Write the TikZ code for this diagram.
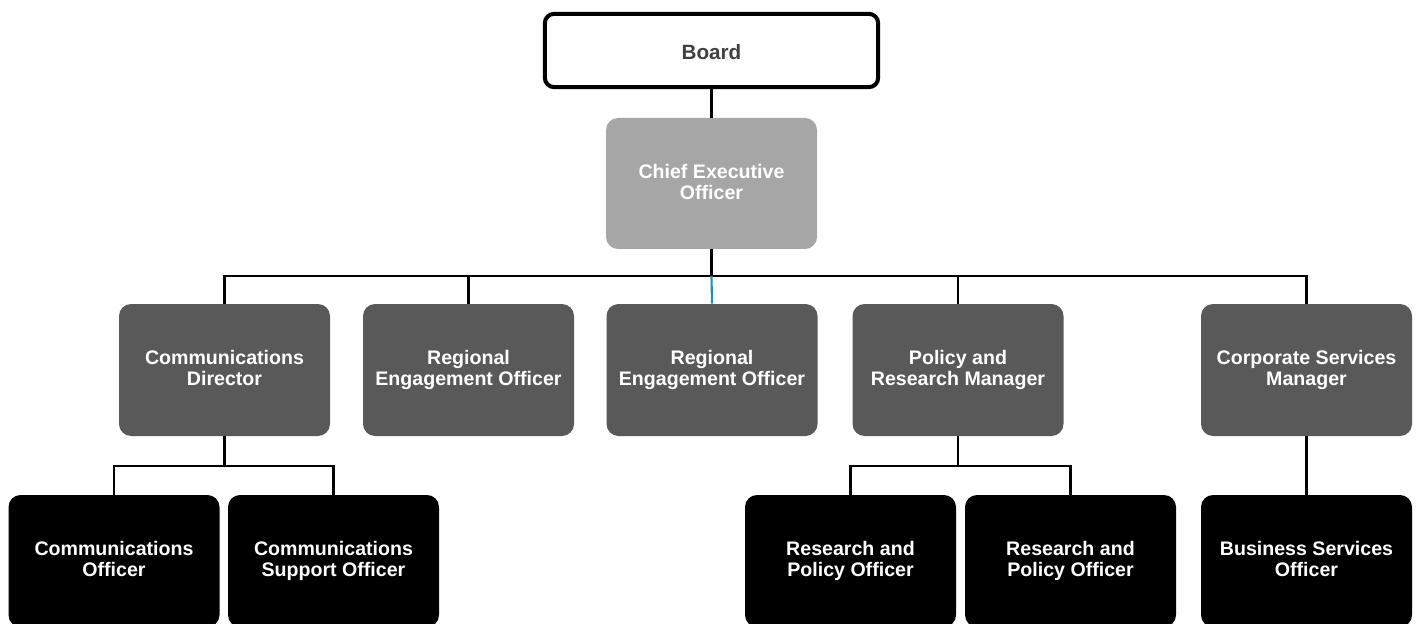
\documentclass[tikz,border=0pt]{standalone}
\usepackage{fontspec}
\setmainfont{Liberation Sans}
\definecolor{ceogray}{HTML}{A6A6A6}
\definecolor{midgray}{HTML}{595959}
\definecolor{boardtxt}{HTML}{404040}
\definecolor{linkblue}{HTML}{1F8FB8}
\newcommand\boxstrut{\rule[-3pt]{0pt}{19.5pt}}
\newcommand\boardstrut{\rule[-3pt]{0pt}{16.5pt}}
\begin{document}
\begin{tikzpicture}[x=0.75pt,y=-0.75pt,
  box/.style={rounded corners=9pt, minimum width=158.25pt, minimum height=99pt,
    align=center, text=white, inner sep=0pt,
    font=\fontsize{14.7pt}{15.75pt}\selectfont\bfseries,
    execute at begin node=\boxstrut, execute at end node=\boxstrut},
  l2box/.style={box, fill=midgray},
  l3box/.style={box, fill=black},
  conn/.style={draw=black, line width=1.6pt}]
\useasboundingbox (0,0) rectangle (1418,624);
\clip (0,0) rectangle (1418,624);
\node[box, draw=black, line width=3pt, fill=white, text=boardtxt, minimum width=250pt, minimum height=55pt, rounded corners=7pt, font=\fontsize{15.5pt}{16pt}\selectfont\bfseries, execute at begin node=\boardstrut, execute at end node=\boardstrut] (board) at (711.5,50.5) {Board};
\node[box, fill=ceogray, minimum height=98.25pt] (ceo) at (711.5,183.5) {Chief Executive\\Officer};
\node[l2box] (cd) at (224.5,370) {Communications\\Director};
\node[l2box] (reo1) at (468.5,370) {Regional\\Engagement Officer};
\node[l2box] (reo2) at (712,370) {Regional\\Engagement Officer};
\node[l2box] (prm) at (958,370) {Policy and\\Research Manager};
\node[l2box] (csm) at (1306.5,370) {Corporate Services\\Manager};
\node[l3box] (co) at (114,561) {Communications\\Officer};
\node[l3box] (cso) at (333.5,561) {Communications\\Support Officer};
\node[l3box] (rpo1) at (850.5,561) {Research and\\Policy Officer};
\node[l3box] (rpo2) at (1070.5,561) {Research and\\Policy Officer};
\node[l3box] (bso) at (1306.5,561) {Business Services\\Officer};
\coordinate (bus) at (711.5,276);
\coordinate (cdbus) at (224.5,466);
\coordinate (prbus) at (958,466);
\draw[conn] (board.south) -- (ceo.north);
\draw[conn] (ceo.south) -- (bus);
\draw[conn] (cd.north) |- (bus) -| (csm.north);
\draw[conn] (reo1.north) -- (reo1.north |- bus);
\draw[conn] (prm.north) -- (prm.north |- bus);
\draw[draw=linkblue, line width=1.6pt] (bus) -- (reo2.north);
\draw[conn] (cd.south) -- (cdbus);
\draw[conn] (co.north) |- (cdbus) -| (cso.north);
\draw[conn] (prm.south) -- (prbus);
\draw[conn] (rpo1.north) |- (prbus) -| (rpo2.north);
\draw[conn] (csm.south) -- (bso.north);
\end{tikzpicture}
\end{document}
